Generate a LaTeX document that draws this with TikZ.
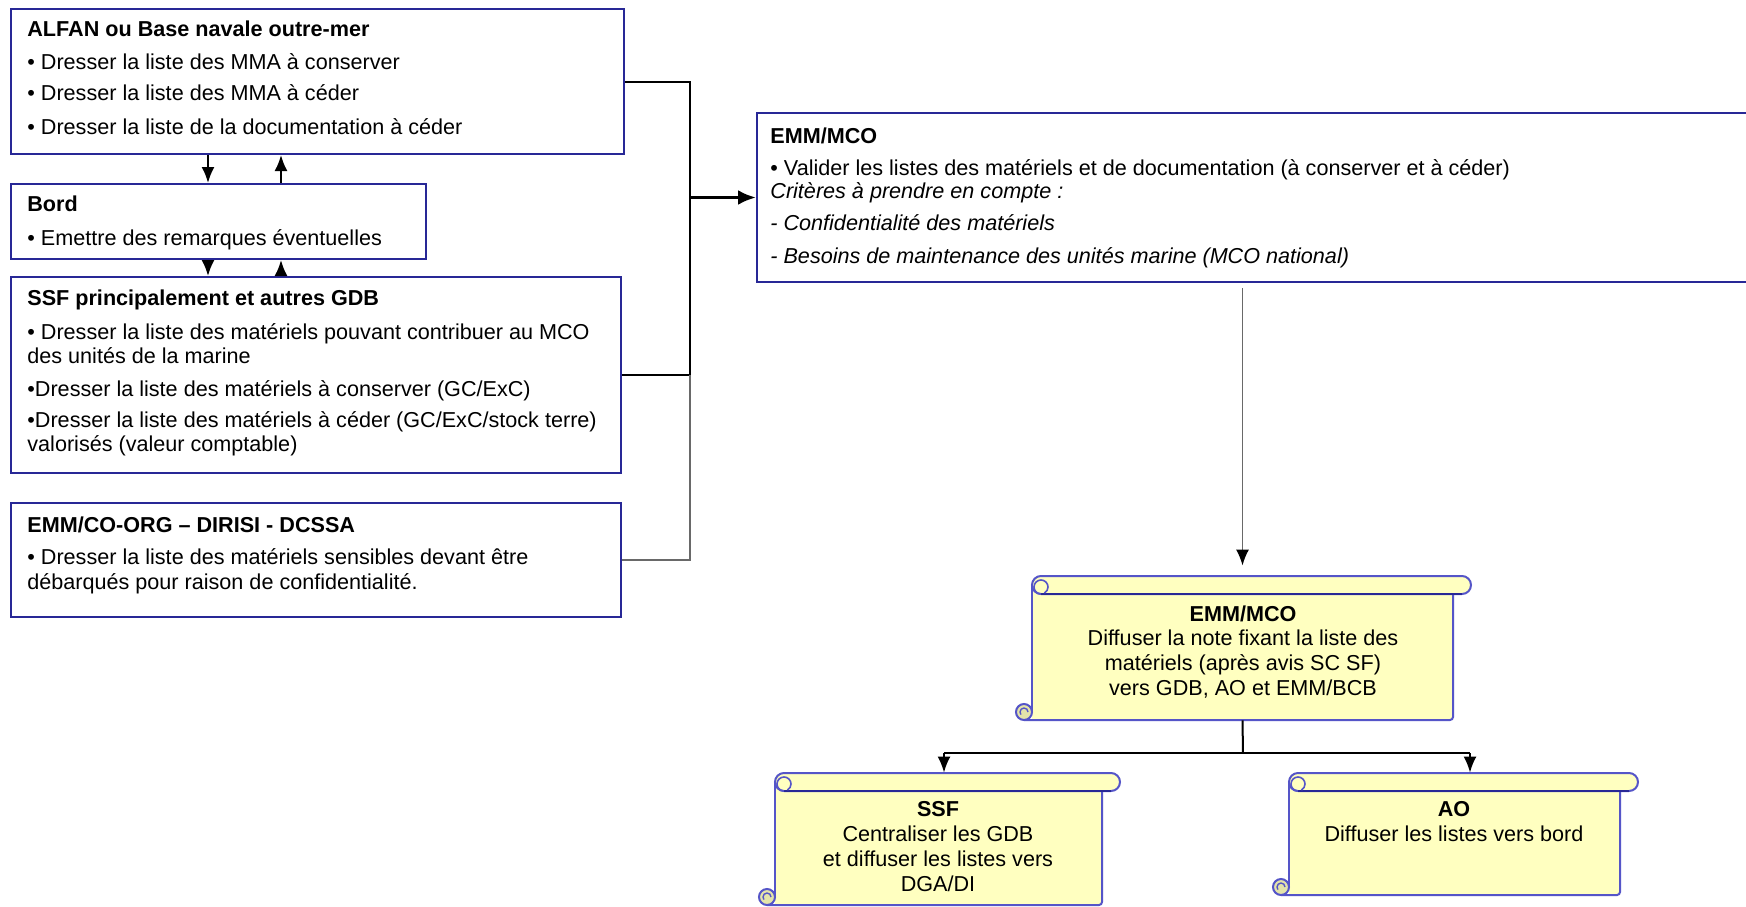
\documentclass[tikz,border=0pt]{standalone}
\usepackage{fontspec}
\setmainfont{Liberation Sans}
\usetikzlibrary{arrows.meta,fit}
\definecolor{boxblue}{RGB}{40,40,150}
\definecolor{scrollblue}{RGB}{85,85,200}
\definecolor{scrollfill}{RGB}{255,255,192}
\definecolor{curlfill}{RGB}{228,228,170}
\definecolor{linegray}{RGB}{105,105,105}
% name, L, T, R, B  (pixel units)
\newcommand\myscroll[5]{%
 \fill[scrollfill] (#2,#3+9) rectangle (#4,#5);
 \draw[scrollline] (#2,#3+9) -- (#2,#5-9);
 \draw[scrollline, rounded corners=1.5pt] (#2-8,#5) -- (#4,#5) -- (#4,#3+18);
 \filldraw[scrollline, fill=scrollfill] (#2,#3+9) arc[start angle=180,end angle=90,radius=4.5pt]
   -- (#4+9,#3) arc[start angle=90,end angle=-90,radius=4.5pt]
   -- (#2+9,#3+18) arc[start angle=270,end angle=180,radius=4.5pt] -- cycle;
 \draw[boxblue, line width=1pt] (#2+9,#3+18) -- (#4+9,#3+18);
 \draw[scrollline, line width=0.8pt] (#2+9,#3+18) arc[start angle=270,end angle=-60,radius=3.5pt];
 \filldraw[scrollline, fill=curlfill] (#2-8,#5-8) circle[radius=4pt];
 \draw[scrollline, line width=0.7pt] (#2-4,#5-8) arc[start angle=0,end angle=220,radius=2pt];
 \node[fit={(#2,#3) (#4,#5)}, inner sep=0] (#1) {};
}
\begin{document}
\begin{tikzpicture}[x=0.5pt,y=-0.5pt,
  box/.style={draw=boxblue, line width=1pt, inner sep=0},
  scrollline/.style={draw=scrollblue, line width=1pt},
  t/.style={font=\fontsize{10.8pt}{12.4pt}\selectfont, inner sep=0, anchor=base west},
  tb/.style={t, font=\fontsize{10.8pt}{12.4pt}\selectfont\bfseries},
  ti/.style={t, font=\fontsize{10.8pt}{12.4pt}\selectfont\itshape},
  c/.style={t, anchor=base},
  cb/.style={tb, anchor=base},
  conn/.style={line width=1pt, draw=black},
  arr/.style={conn, -{Latex[length=8pt,width=6.5pt]}}
]
\useasboundingbox (0,0) rectangle (1746,906);
\clip (0,0) rectangle (1746,906);
\fill[white] (0,0) rectangle (1746,906);

% left boxes
\node[box, fit={(11,9) (624,154)}] (alfan) {};
\node[box, fit={(11,184) (426,259)}] (bord) {};
\node[box, fit={(11,277) (621,473)}] (ssf) {};
\node[box, fit={(11,503) (621,617)}] (org) {};
\node[box, fit={(757,113) (1770,282)}] (emm) {};

% texts
\node[tb] (a0) at (27,36) {ALFAN ou Base navale outre-mer};
\node[t] (a1) at (27,69) {• Dresser la liste des MMA à conserver};
\node[t] (a2) at (27,100) {• Dresser la liste des MMA à céder};
\node[t] (a3) at (27,134) {• Dresser la liste de la documentation à céder};

\node[tb] (b0) at (27,211) {Bord};
\node[t] (b1) at (27,245) {• Emettre des remarques éventuelles};

\node[tb] (s0) at (27,305) {SSF principalement et autres GDB};
\node[t] (s1a) at (27,339) {• Dresser la liste des matériels pouvant contribuer au MCO};
\node[t] (s1b) at (27,363) {des unités de la marine};
\node[t] (s2) at (27,396) {•Dresser la liste des matériels à conserver (GC/ExC)};
\node[t] (s3a) at (27,427) {•Dresser la liste des matériels à céder (GC/ExC/stock terre)};
\node[t] (s3b) at (27,451) {valorisés (valeur comptable)};

\node[tb] (o0) at (27,532) {EMM/CO-ORG – DIRISI - DCSSA};
\node[t] (o1) at (27,564) {• Dresser la liste des matériels sensibles devant être};
\node[t] (o2) at (27,589) {débarqués pour raison de confidentialité.};

\node[tb] (e0) at (770,143) {EMM/MCO};
\node[t] (e1) at (770,175) {• Valider les listes des matériels et de documentation (à conserver et à céder)};
\node[ti] (e2) at (770,198) {Critères à prendre en compte :};
\node[ti] (e3) at (770,230) {- Confidentialité des matériels};
\node[ti] (e4) at (770,263) {- Besoins de maintenance des unités marine (MCO national)};

% scrolls
\myscroll{sc1}{1032}{576}{1453}{720}
\myscroll{sc2}{775}{773}{1102}{905}
\myscroll{sc3}{1289}{773}{1620}{895}

\node[cb] (c10) at (1243,621) {EMM/MCO};
\node[c] (c11) at (1243,645) {Diffuser la note fixant la liste des};
\node[c] (c12) at (1243,670) {matériels (après avis SC SF)};
\node[c] (c13) at (1243,695) {vers GDB, AO et EMM/BCB};

\node[cb] (c20) at (938,816) {SSF};
\node[c] (c21) at (938,841) {Centraliser les GDB};
\node[c] (c22) at (938,866) {et diffuser les listes vers};
\node[c] (c23) at (938,891) {DGA/DI};

\node[cb] (c30) at (1454,816) {AO};
\node[c] (c31) at (1454,841) {Diffuser les listes vers bord};

% coordinates
\coordinate (xd) at (208,0);
\coordinate (xu) at (281,0);
\coordinate (bus) at (690,0);
\coordinate (branch) at (1243,753);
\coordinate (bl) at (944,753);
\coordinate (br) at (1470,753);

% arrows between left boxes
\draw[arr] (alfan.south -| xd) -- (bord.north -| xd);
\draw[arr] (bord.north -| xu) -- (alfan.south -| xu);
\draw[arr] (bord.south -| xd) -- (ssf.north -| xd);
\draw[arr] (ssf.north -| xu) -- (bord.south -| xu);

% bus to EMM/MCO
\draw[conn] (alfan.east) -| (bus |- ssf.east) -- (ssf.east);
\draw[conn, draw=linegray] (org.east) -| (bus |- ssf.east);
\draw[line width=1.6pt, -{Latex[length=9pt,width=7.5pt]}] (emm.west -| bus) -- (emm.west);

% EMM/MCO to scroll
\draw[line width=0.9pt, draw=linegray, -{Latex[length=8pt,width=6.5pt,black]}] ([yshift=-2.5pt]emm.south -| sc1.north) -- ([yshift=5pt]sc1.north);

% branches
\draw[conn] (sc1.south) -- (branch);
\draw[conn] (bl) -- (br);
\draw[arr] (bl) -- (bl |- sc2.north);
\draw[arr] (br) -- (br |- sc3.north);
\end{tikzpicture}
\end{document}
